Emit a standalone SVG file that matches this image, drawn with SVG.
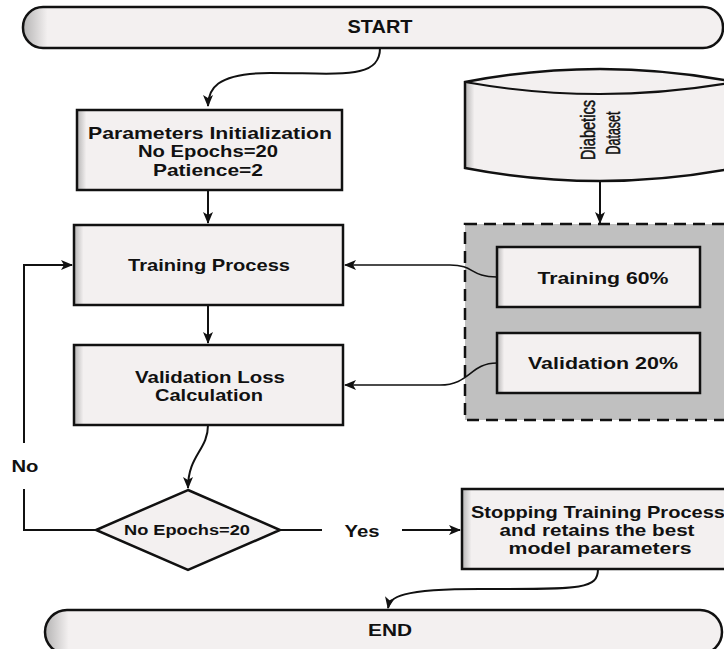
<svg xmlns="http://www.w3.org/2000/svg" width="724" height="649" viewBox="0 0 724 649">
<style>
.box{fill:url(#sh);stroke:#111;stroke-width:2.5}
.t{font-family:"Liberation Sans",Arial,sans-serif;font-weight:bold;font-size:17px;fill:#111;text-anchor:middle;dominant-baseline:central}
.v{font-weight:normal;font-size:20px;stroke:#111;stroke-width:0.5}
.c{fill:none;stroke:#111;stroke-width:2}
.cw{fill:none;stroke:#111;stroke-width:1.6}
</style>
<defs>
<linearGradient id="sh" x1="0" y1="0" x2="1" y2="0">
<stop offset="0" stop-color="#b5b4b4"/>
<stop offset="0.035" stop-color="#f3f0f0"/>
<stop offset="1" stop-color="#f3f0f0"/>
</linearGradient>
<marker id="ah" viewBox="0 0 12 10" refX="11" refY="5" markerWidth="12" markerHeight="10" markerUnits="userSpaceOnUse" orient="auto">
<path d="M0,0 L12,5 L0,10 L3,5 z" fill="#111"/>
</marker>
</defs>

<g id="start">
<rect class="box" x="23" y="7" width="700" height="41" rx="20" ry="20"/>
<text class="t" x="380" y="27" style="font-size:18px" textLength="65" lengthAdjust="spacingAndGlyphs">START</text>
</g>

<g id="params">
<rect class="box" x="77" y="110" width="265" height="80"/>
<text class="t" x="210" y="133" textLength="244" lengthAdjust="spacingAndGlyphs">Parameters Initialization</text>
<text class="t" x="208" y="151" textLength="140" lengthAdjust="spacingAndGlyphs">No Epochs=20</text>
<text class="t" x="208" y="170" textLength="110" lengthAdjust="spacingAndGlyphs">Patience=2</text>
</g>

<g id="training">
<rect class="box" x="74" y="225" width="269" height="80"/>
<text class="t" x="209" y="265" textLength="162" lengthAdjust="spacingAndGlyphs">Training Process</text>
</g>

<g id="validation">
<rect class="box" x="74" y="345" width="269" height="80"/>
<text class="t" x="210" y="377" textLength="150" lengthAdjust="spacingAndGlyphs">Validation Loss</text>
<text class="t" x="209" y="395" textLength="108" lengthAdjust="spacingAndGlyphs">Calculation</text>
</g>

<g id="decision">
<polygon class="box" points="188,490 280,530 188,570 96,530"/>
<text class="t" x="187" y="530" style="font-size:14.5px" textLength="126" lengthAdjust="spacingAndGlyphs">No Epochs=20</text>
</g>

<g id="stopping">
<rect class="box" x="462" y="489" width="270" height="80"/>
<text class="t" x="598" y="512" textLength="254" lengthAdjust="spacingAndGlyphs">Stopping Training Process</text>
<text class="t" x="597" y="530" textLength="195" lengthAdjust="spacingAndGlyphs">and retains the best</text>
<text class="t" x="600" y="548" textLength="183" lengthAdjust="spacingAndGlyphs">model parameters</text>
</g>

<g id="end">
<rect class="box" x="45" y="610" width="677" height="44" rx="22" ry="22"/>
<text class="t" x="390" y="630" textLength="44" lengthAdjust="spacingAndGlyphs">END</text>
</g>

<g id="dataset">
<path class="box" d="M465,82 Q600,56 735,82 L735,168 Q600,194 465,168 Z"/>
<path class="c" d="M465,82 Q600,106 735,82"/>
<text class="t v" transform="translate(588,130) rotate(-90)" textLength="60" lengthAdjust="spacingAndGlyphs">Diabetics</text>
<text class="t v" transform="translate(613,133) rotate(-90)" textLength="43" lengthAdjust="spacingAndGlyphs">Dataset</text>
</g>

<g id="split">
<rect x="465" y="224" width="270" height="196" fill="#c0c0c0" stroke="#111" stroke-width="2.5" stroke-dasharray="12,7"/>
<g id="train60">
<rect class="box" x="497" y="247" width="203" height="60"/>
<text class="t" x="603" y="278" textLength="131" lengthAdjust="spacingAndGlyphs">Training 60%</text>
</g>
<g id="val20">
<rect class="box" x="497" y="333" width="203" height="60"/>
<text class="t" x="603" y="363" textLength="150" lengthAdjust="spacingAndGlyphs">Validation 20%</text>
</g>
</g>

<g id="connectors">
<path class="c" d="M380,48 C380,80 340,73 270,73 C215,73 208,90 208,106" marker-end="url(#ah)"/>
<path class="c" d="M208,190 L208,223" marker-end="url(#ah)"/>
<path class="c" d="M208,305 L208,343" marker-end="url(#ah)"/>
<path class="c" d="M600,180 L600,223" marker-end="url(#ah)"/>
<path class="cw" d="M497,277 C470,277 475,265 450,265 L345,265" marker-end="url(#ah)"/>
<path class="cw" d="M497,363 C470,363 470,385 440,385 L345,385" marker-end="url(#ah)"/>
<path class="c" d="M208,425 C208,450 188,455 188,488" marker-end="url(#ah)"/>
<path class="c" d="M96,530 L24,530 L24,489"/>
<path class="c" d="M24,443 L24,265 L72,265" marker-end="url(#ah)"/>
<text class="t" x="25" y="466" textLength="27" lengthAdjust="spacingAndGlyphs">No</text>
<path class="c" d="M280,530 L322,530"/>
<text class="t" x="362" y="531" textLength="35" lengthAdjust="spacingAndGlyphs">Yes</text>
<path class="c" d="M402,530 L460,530" marker-end="url(#ah)"/>
<path class="c" d="M598,569 C598,590 580,589 480,589 C400,589 390,597 388,608" marker-end="url(#ah)"/>
</g>
</svg>
